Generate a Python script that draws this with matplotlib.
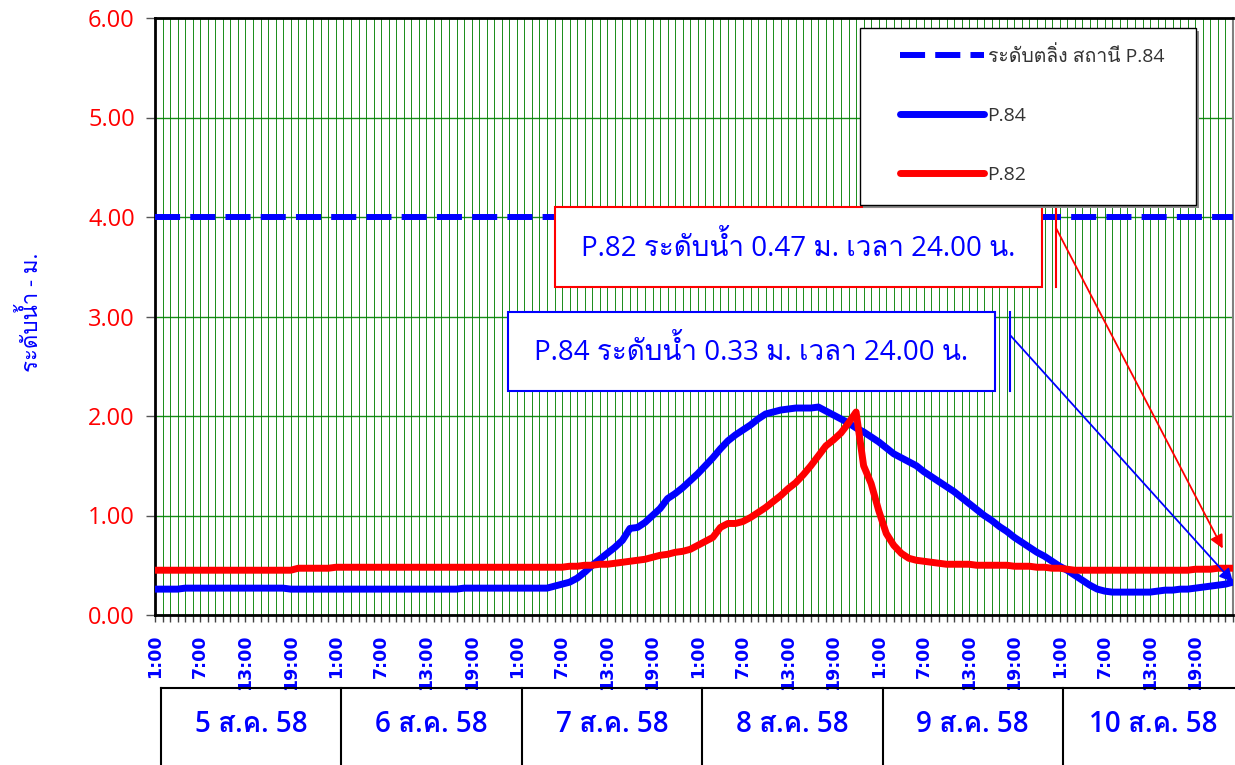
import numpy as np
import matplotlib
matplotlib.use("Agg")
import matplotlib.pyplot as plt
from matplotlib.patches import Rectangle
from matplotlib.lines import Line2D

# hourly water level (m), 1:00 on 5 Aug 58 to 24:00 on 10 Aug 58
days = ["5 ส.ค. 58", "6 ส.ค. 58", "7 ส.ค. 58", "8 ส.ค. 58", "9 ส.ค. 58", "10 ส.ค. 58"]
hours = [f"{h}:00" for h in range(1, 25)]

p84 = ([0.26] * 4 + [0.27] * 14 + [0.26] * 23 + [0.27] * 12 +
       [0.29, 0.31, 0.33, 0.37, 0.43, 0.50, 0.56, 0.62, 0.68, 0.75,
        0.87, 0.88, 0.93, 1.00, 1.07, 1.17, 1.22, 1.28, 1.35, 1.42,
        1.50, 1.58, 1.67, 1.75, 1.81, 1.86, 1.91, 1.97, 2.02, 2.04,
        2.06, 2.07, 2.08, 2.08, 2.08, 2.09, 2.05, 2.01, 1.97, 1.93,
        1.88, 1.84, 1.79, 1.74, 1.68, 1.62, 1.58, 1.54, 1.50, 1.44,
        1.39, 1.34, 1.29, 1.24, 1.18, 1.12, 1.06, 1.00, 0.95, 0.89,
        0.84, 0.78, 0.73, 0.68, 0.63, 0.59, 0.54, 0.49, 0.45, 0.40,
        0.35, 0.30, 0.26, 0.24] +
       [0.23] * 6 +
       [0.24, 0.25, 0.25, 0.26, 0.26, 0.27, 0.28, 0.29, 0.30, 0.31, 0.33])

p82 = ([0.45] * 19 + [0.47] * 5 + [0.48] * 31 +
       [0.49, 0.49, 0.50, 0.50, 0.51, 0.51, 0.52, 0.53, 0.54, 0.55,
        0.56, 0.58, 0.60, 0.61, 0.63, 0.64, 0.66, 0.70, 0.74, 0.78,
        0.88, 0.92, 0.92, 0.94, 0.98, 1.03, 1.08, 1.14, 1.20, 1.27,
        1.33, 1.41, 1.50, 1.60, 1.70, 1.76, 1.83, 1.93, 2.04, 1.50,
        1.32, 1.05, 0.82, 0.70, 0.62, 0.57, 0.55, 0.54, 0.53, 0.52,
        0.51, 0.51, 0.51, 0.51, 0.50, 0.50, 0.50, 0.50, 0.50, 0.49,
        0.49, 0.49, 0.48, 0.48, 0.47, 0.47, 0.46] +
       [0.45] * 16 +
       [0.46, 0.46, 0.46, 0.47, 0.47, 0.47])

bank_level = 4.00   # ระดับตลิ่ง สถานี P.84

thai = ["Open Sans", "Loma", "DejaVu Sans"]
W, H = 1235, 765

def fx(px):
    return px / W

def fy(py):
    return 1 - py / H

fig = plt.figure(figsize=(W / 100, H / 100), dpi=100)
ax = fig.add_axes([fx(155), fy(615), fx(1233) - fx(155), fy(18) - fy(615)])

x = np.arange(len(p84))
ax.plot(x, np.full(len(x), bank_level), color="#0000ff", lw=4.3,
        dashes=(4.2, 1.7), label="ระดับตลิ่ง สถานี P.84", zorder=3)
ax.plot(x, p84, color="#0000ff", lw=5, solid_capstyle="round",
        solid_joinstyle="round", label="P.84", zorder=4)
ax.plot(x, p82, color="#ff0000", lw=5, solid_capstyle="round",
        solid_joinstyle="round", label="P.82", zorder=5)

ax.set_xlim(0, len(x) - 1)
ax.set_ylim(0, 6)
ax.set_yticks(np.arange(0, 7, 1))
ax.set_yticklabels([f"{v:.2f}" for v in range(7)], color="#ff0000",
                   fontsize=17, family="Open Sans")
ax.set_xticks(x[::6])
ax.set_xticklabels([hours[i % 24] for i in x[::6]], rotation=90,
                   color="#0000ff", fontsize=12.5, family="DejaVu Sans",
                   fontweight="bold")
ax.set_xticks(x, minor=True)
ax.tick_params(axis="x", which="both", direction="out", length=5,
               width=1, color="#444444", pad=9)
ax.tick_params(axis="y", direction="out", length=6.5, width=1,
               color="#555555", pad=8)

ax.grid(axis="x", which="both", color="#008000", lw=0.7, alpha=0.9)
ax.grid(axis="y", which="major", color="#008000", lw=1.0, alpha=0.9)
ax.set_axisbelow(True)

for s in ["left", "top", "bottom"]:
    ax.spines[s].set_linewidth(2)
    ax.spines[s].set_color("black")
ax.spines["right"].set_color("#808080")
ax.spines["right"].set_linewidth(1.5)

fig.text(fx(31), fy(312), "ระดับน้ำ - ม.", rotation=90, color="#0000ff",
         fontsize=16, family=thai, ha="center", va="center")

# legend: framed box with a grey shadow, entries without their own frame
lx0, ly0, lx1, ly1 = 860, 28, 1196, 205
fig.add_artist(Rectangle((fx(lx0 + 3), fy(ly1 + 3)), fx(lx1) - fx(lx0), fy(ly0) - fy(ly1),
                         transform=fig.transFigure, facecolor="#8c8c8c",
                         edgecolor="none", zorder=8))
fig.add_artist(Rectangle((fx(lx0), fy(ly1)), fx(lx1) - fx(lx0), fy(ly0) - fy(ly1),
                         transform=fig.transFigure, facecolor="white",
                         edgecolor="black", lw=1, zorder=9))
handles, labels = ax.get_legend_handles_labels()
leg = fig.legend(handles, labels, loc="upper left", bbox_to_anchor=(fx(900), fy(46)),
                 borderaxespad=0, borderpad=0, frameon=False, handlelength=4.3,
                 handletextpad=0.2, labelspacing=2.1,
                 prop={"family": thai, "size": 14})
for t in leg.get_texts():
    t.set_color("#333333")
leg.set_zorder(10)

# callout boxes
callouts = [
    (555, 207, 1042, 287, 1056, 228, "#ff0000", p82, "P.82", 16),
    (508, 312, 995, 391, 1010, 335, "#0000ff", p84, "P.84", 0),
]
for x0, y0, x1, y1, cx, cy, col, series, name, shrink in callouts:
    fig.add_artist(Rectangle((fx(x0), fy(y1)), fx(x1) - fx(x0), fy(y0) - fy(y1),
                             transform=fig.transFigure, facecolor="white",
                             edgecolor=col, lw=1.5, zorder=5))
    fig.text(fx((x0 + x1) / 2), fy((y0 + y1) / 2),
             f"{name} ระดับน้ำ {series[-1]:.2f} ม. เวลา 24.00 น.",
             color="#0000ff", fontsize=20, family=thai, ha="center",
             va="center", zorder=6)
    fig.add_artist(Line2D([fx(cx), fx(cx)], [fy(y0), fy(y1)],
                          transform=fig.transFigure, color=col, lw=1.5, zorder=5))
    ax.annotate("", xy=(x[-1], series[-1]), xycoords="data",
                xytext=(fx(cx), fy(cy)), textcoords="figure fraction",
                arrowprops=dict(arrowstyle="-|>", color=col, lw=1.3,
                                mutation_scale=20, shrinkA=0, shrinkB=shrink),
                annotation_clip=False, zorder=7)

# date boxes under the time axis
bx0, bw, btop = 161, 180.4, 688
fig.add_artist(Line2D([fx(bx0), fx(bx0 + bw * len(days))], [fy(btop), fy(btop)],
                      transform=fig.transFigure, color="black", lw=1.5))
for d, name in enumerate(days):
    left = bx0 + bw * d
    fig.add_artist(Line2D([fx(left), fx(left)], [fy(btop), 0],
                          transform=fig.transFigure, color="black", lw=1.5))
    fig.text(fx(left + bw / 2), fy(724), name, color="#0000ff", fontsize=20,
             fontweight="semibold", family=thai, ha="center", va="center")

fig.savefig("out.png", dpi=100)
